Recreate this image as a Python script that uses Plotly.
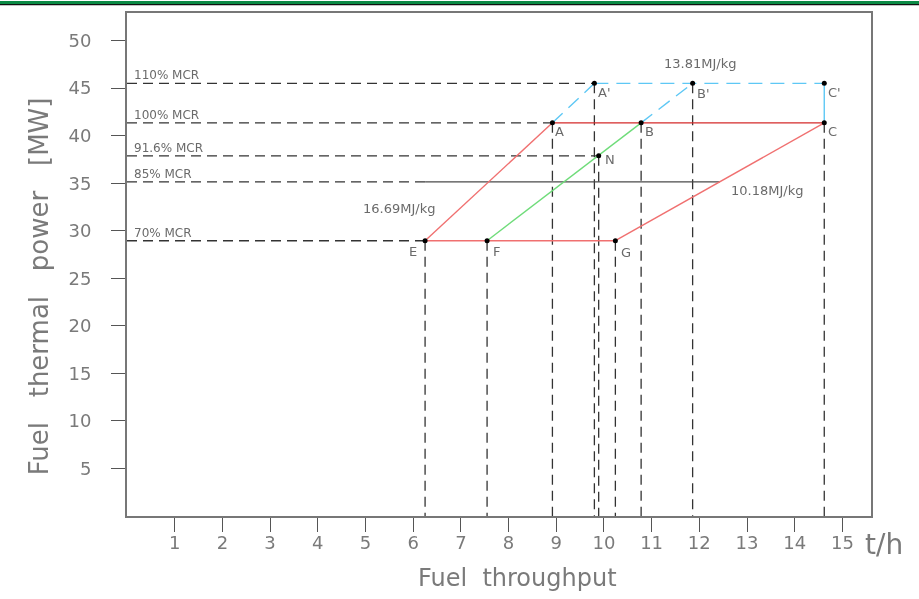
import plotly.graph_objects as go

# ---------------- data ----------------
x_ticks = list(range(1, 16))
y_ticks = [5, 10, 15, 20, 25, 30, 35, 40, 45, 50]

mcr_labels = ["110% MCR", "100% MCR", "91.6% MCR", "85% MCR", "70% MCR"]
mcr_power = [45.5, 41.35, 37.88, 35.15, 28.95]
mcr_dash_end = [9.80, 8.92, 9.89, 6.25, 6.25]   # t/h where the dashed guide ends
mcr85_solid_end = 12.43

point_names = ["A", "B", "C", "A'", "B'", "C'", "N", "E", "F", "G"]
point_x = [8.92, 10.78, 14.62, 9.80, 11.86, 14.62, 9.89, 6.25, 7.55, 10.24]
point_y = [41.35, 41.35, 41.35, 45.5, 45.5, 45.5, 37.88, 28.95, 28.95, 28.95]

hv_labels = ["16.69MJ/kg", "13.81MJ/kg", "10.18MJ/kg"]
hv_label_x = [5.71, 12.01, 13.41]
hv_label_y = [32.3, 47.6, 34.2]

P = dict(zip(point_names, zip(point_x, point_y)))
Y_RANGE = [0, 52.9]

# ---------------- figure ----------------
fig = go.Figure()

def seg_trace(pairs, color, width, dash):
    xs, ys = [], []
    for a, b in pairs:
        xs += [a[0], b[0], None]
        ys += [a[1], b[1], None]
    fig.add_trace(go.Scatter(x=xs, y=ys, mode="lines",
                             line=dict(color=color, width=width, dash=dash),
                             hoverinfo="skip", showlegend=False))

# vertical dashed drops to the x axis
drops = ["E", "F", "A", "A'", "N", "G", "B", "B'", "C"]
seg_trace([((P[n][0], P[n][1]), (P[n][0], 0)) for n in drops], "#333333", 1.3, "10px,6px")

# horizontal dashed guides from the y axis
seg_trace([((0, yv), (xe, yv)) for yv, xe in zip(mcr_power, mcr_dash_end)], "#333333", 1.3, "10px,6px")

# 85% MCR solid continuation
seg_trace([((mcr_dash_end[3], mcr_power[3]), (mcr85_solid_end, mcr_power[3]))], "#4a4a4a", 1.2, "solid")

# red lines
seg_trace([(P["E"], P["A"]), (P["E"], P["G"]), (P["G"], P["C"])], "#f07070", 1.4, "solid")
seg_trace([(P["A"], P["C"])], "#d42a2a", 1.2, "solid")
# green line
seg_trace([(P["F"], P["B"])], "#6fdc7a", 1.4, "solid")
# light blue
seg_trace([(P["A"], P["A'"]), (P["A'"], P["C'"]), (P["B"], P["B'"])], "#5ec8f5", 1.4, "14px,8px")
seg_trace([(P["C"], P["C'"])], "#5ec8f5", 1.4, "solid")

# points
fig.add_trace(go.Scatter(x=point_x, y=point_y, mode="markers",
                         marker=dict(color="black", size=5),
                         hoverinfo="skip", showlegend=False))
# same points, invisible, on the overlay axis that carries the y tick labels
fig.add_trace(go.Scatter(x=point_x, y=point_y, mode="markers", yaxis="y2",
                         marker=dict(color="black", size=5), opacity=0,
                         hoverinfo="skip", showlegend=False))

txt_col = "#6a6a6a"
FONT = "DejaVu Sans"

# point labels
label_shift = {"A": (7, -9), "A'": (10, -9), "B": (8, -9), "B'": (11, -10),
               "C": (8, -9), "C'": (10, -9), "N": (11, -4), "E": (-12, -11),
               "F": (9, -11), "G": (11, -12)}
for n, xv, yv in zip(point_names, point_x, point_y):
    dx, dy = label_shift[n]
    fig.add_annotation(x=xv, y=yv, text=n, showarrow=False, xshift=dx, yshift=dy,
                       xanchor="center", yanchor="middle",
                       font=dict(family=FONT, size=13, color=txt_col))

# MCR labels
for lab, yv in zip(mcr_labels, mcr_power):
    fig.add_annotation(x=0.1, y=yv, text=lab, showarrow=False, xanchor="left",
                       yanchor="bottom", yshift=-1,
                       font=dict(family=FONT, size=12, color=txt_col))

# heating-value labels
for lab, xv, yv in zip(hv_labels, hv_label_x, hv_label_y):
    fig.add_annotation(x=xv, y=yv, text=lab, showarrow=False,
                       xanchor="center", yanchor="middle",
                       font=dict(family=FONT, size=13, color=txt_col))

# axis titles
fig.add_annotation(xref="paper", yref="paper", x=-0.118, y=0.457,
                   xanchor="center", yanchor="middle",
                   text="Fuel   thermal   power   [MW]", textangle=-90, showarrow=False,
                   font=dict(family=FONT, size=26, color="#7a7a7a"))
fig.add_annotation(xref="paper", yref="paper", x=0.525, y=-0.123,
                   xanchor="center", yanchor="middle",
                   text="Fuel  throughput", showarrow=False,
                   font=dict(family=FONT, size=24, color="#7a7a7a"))
fig.add_annotation(xref="paper", yref="paper", x=1.017, y=-0.057,
                   xanchor="center", yanchor="middle",
                   text="t/h", showarrow=False,
                   font=dict(family=FONT, size=28, color="#7a7a7a"))

# top green banner
fig.add_shape(type="rect", xref="paper", yref="paper", x0=-0.2, x1=1.1,
              y0=1 + 9 / 505, y1=1 + 12 / 505, fillcolor="#0b8a45", line_width=0, layer="above")
fig.add_shape(type="rect", xref="paper", yref="paper", x0=-0.2, x1=1.1,
              y0=1 + 7.7 / 505, y1=1 + 9 / 505, fillcolor="#111111", line_width=0, layer="above")

fig.update_layout(
    width=919, height=599, margin=dict(l=127, r=48, t=11, b=83),
    paper_bgcolor="white", plot_bgcolor="white",
    xaxis=dict(range=[0, 15.6], tickvals=x_ticks, ticks="outside", ticklen=14,
               tickcolor="#555555", tickwidth=1.3, showgrid=False, zeroline=False,
               showline=True, linecolor="#777777", linewidth=1.5, mirror=True,
               tickfont=dict(family=FONT, size=18, color="#7a7a7a"), ticklabelstandoff=-4),
    yaxis=dict(range=Y_RANGE, tickvals=y_ticks, ticks="outside", ticklen=14,
               tickcolor="#555555", tickwidth=1.3, showgrid=False, zeroline=False,
               showline=True, linecolor="#777777", linewidth=1.5, mirror=True,
               showticklabels=False),
    yaxis2=dict(range=Y_RANGE, tickvals=y_ticks, overlaying="y", anchor="free",
                position=0, side="left", ticks="outside", ticklen=32,
                tickcolor="rgba(0,0,0,0)", showgrid=False, zeroline=False,
                showline=False,
                tickfont=dict(family=FONT, size=18, color="#7a7a7a")),
)

fig.write_html("out.html", config={"displayModeBar": False},
               post_script="document.body.style.margin='0';document.body.style.overflow='hidden';")
